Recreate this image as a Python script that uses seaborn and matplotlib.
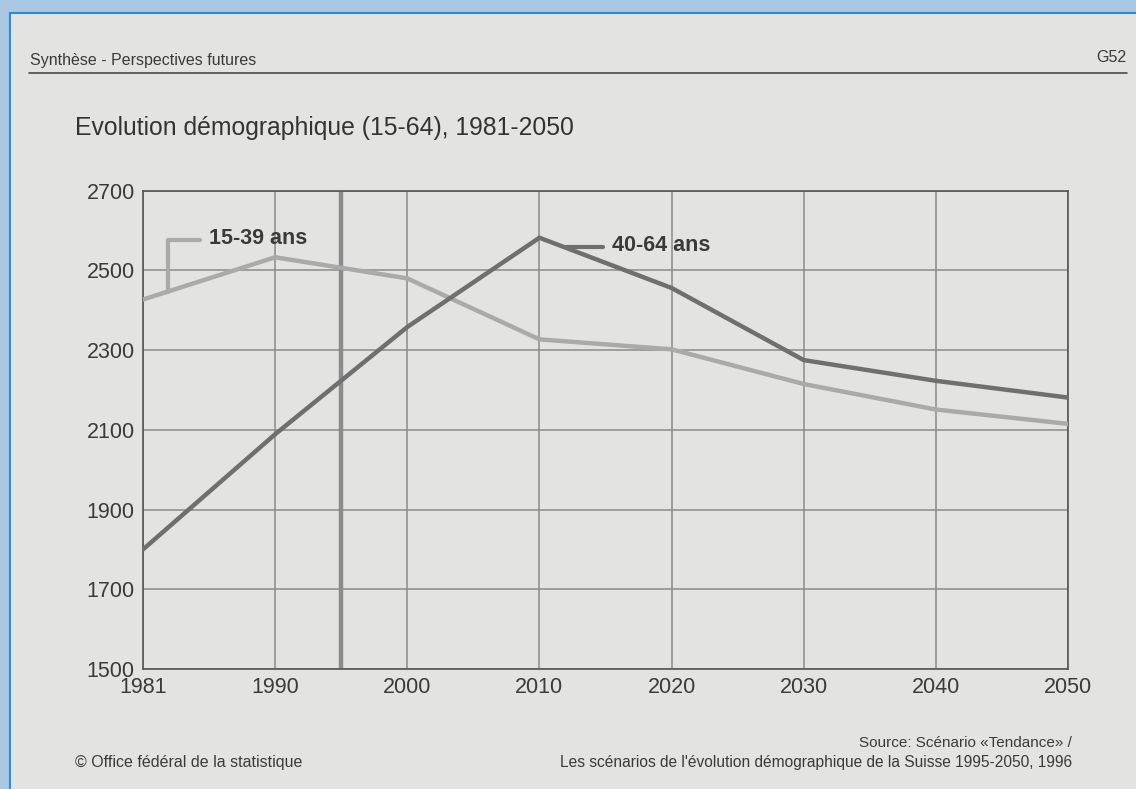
import pandas as pd
import seaborn as sns
import matplotlib as mpl
mpl.use('Agg')
import matplotlib.pyplot as plt
from matplotlib.patches import Rectangle

# données (milliers de personnes)
annees = ["1981", "1990", "2000", "2010", "2020", "2030", "2040", "2050"]
ans_15_39 = [2427, 2533, 2480, 2327, 2302, 2215, 2151, 2115]
ans_40_64 = [1800, 2089, 2358, 2582, 2456, 2275, 2223, 2181]
y_ticks = [1500, 1700, 1900, 2100, 2300, 2500, 2700]
annee_base = 1.5  # trait vertical 1995 (entre 1990 et 2000)

titre = "Evolution démographique (15-64), 1981-2050"
serie_claire = "15-39 ans"
serie_foncee = "40-64 ans"

df = pd.DataFrame({
    "pos": list(range(len(annees))) * 2,
    "valeur": ans_15_39 + ans_40_64,
    "groupe": [serie_claire] * len(annees) + [serie_foncee] * len(annees),
})

sns.set_style("white")
plt.rcParams['font.family'] = ['Liberation Sans', 'DejaVu Sans']

txt = '#3a3a3a'
c_clair = '#a9aaa9'
c_fonce = '#6f6f6f'
page = '#e3e4e2'

fig = plt.figure(figsize=(11.36, 7.89), dpi=100)
fig.patch.set_facecolor('#aac8e2')
fig.patches.append(Rectangle((10 / 1136, -0.02), 1.0, 1.02 - 12.7 / 789,
                             transform=fig.transFigure, facecolor=page,
                             edgecolor='#2f8ad6', linewidth=1.5, zorder=-10))

# en-tête
fig.text(30 / 1136, 1 - 60 / 789, "Synthèse - Perspectives futures", fontsize=11.5,
         color=txt, va='center', ha='left')
fig.text(1126 / 1136, 1 - 58 / 789, "G52", fontsize=11.5, color=txt, va='center', ha='right')
fig.add_artist(plt.Line2D([29 / 1136, 1127 / 1136], [1 - 73 / 789] * 2,
                          transform=fig.transFigure, color='#4a4a4a', linewidth=1.2))
fig.text(75 / 1136, 1 - 128 / 789, titre, fontsize=17.8, color='#333333', va='center', ha='left')

ax = fig.add_axes([143 / 1136, 1 - 669 / 789, (1068 - 143) / 1136, (669 - 190.7) / 789])
ax.set_facecolor('none')

ax.axvline(annee_base, color='#8c8c8c', linewidth=3.2, zorder=1)

sns.lineplot(data=df, x="pos", y="valeur", hue="groupe",
             palette={serie_claire: c_clair, serie_foncee: c_fonce},
             linewidth=3.2, legend=False, ax=ax, zorder=3)

ax.set_xlim(0, len(annees) - 1)
ax.set_ylim(y_ticks[0], y_ticks[-1])
ax.set_xticks(range(len(annees)))
ax.set_xticklabels(annees)
ax.set_yticks(y_ticks)
ax.grid(True, color='#8a8a8a', linewidth=1.1, zorder=0)
ax.set_axisbelow(True)
for s in ax.spines.values():
    s.set_color('#555555')
    s.set_linewidth(1.2)
ax.tick_params(axis='both', which='both', direction='out', length=5, width=1,
               color='#555555', labelsize=15.5, labelcolor=txt, pad=1)
ax.set_xlabel("")
ax.set_ylabel("")

# étiquettes des séries
ax.plot([0.19, 0.19, 0.43], [2447, 2577, 2577], color=c_clair, linewidth=3, zorder=2)
ax.text(0.5, 2580, serie_claire, fontsize=15.5, fontweight='bold', color=txt, va='center')
ax.plot([3.2, 3.48], [2560, 2560], color=c_fonce, linewidth=3, zorder=2)
ax.text(3.55, 2563, serie_foncee, fontsize=15.5, fontweight='bold', color=txt, va='center')

# pied de page
fig.text(75 / 1136, 1 - 763 / 789, "© Office fédéral de la statistique", fontsize=11.5,
         color=txt, va='center', ha='left')
fig.text(1072 / 1136, 1 - 743 / 789, "Source: Scénario «Tendance» /", fontsize=11,
         color=txt, va='center', ha='right')
fig.text(1072 / 1136, 1 - 763 / 789,
         "Les scénarios de l'évolution démographique de la Suisse 1995-2050, 1996",
         fontsize=11.2, color=txt, va='center', ha='right')

plt.savefig("out.png", dpi=100, facecolor=fig.get_facecolor())
